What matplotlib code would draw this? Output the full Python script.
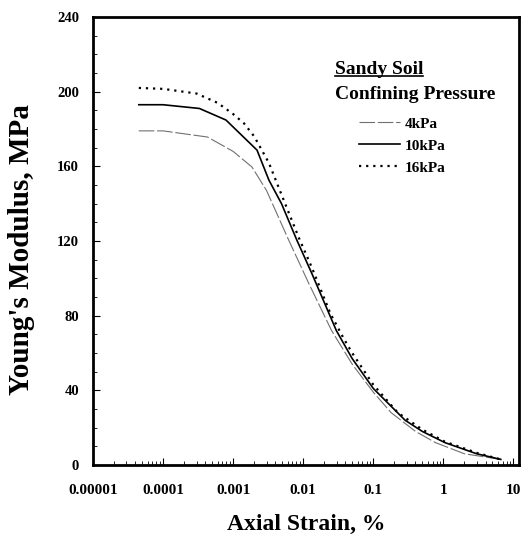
import matplotlib
matplotlib.use("Agg")
import matplotlib.pyplot as plt
from matplotlib.ticker import FixedLocator, MultipleLocator, NullFormatter

plt.rcParams['font.family'] = ['Liberation Serif', 'DejaVu Serif']
plt.rcParams['font.weight'] = 'bold'

# Data
strain_4 = [4.5e-5, 1e-4, 4.3e-4, 1e-3, 1.86e-3, 3e-3, 6.2e-3, 0.0121, 0.0254, 0.05, 0.1, 0.18, 0.4, 0.77, 2, 6.6]
modulus_4 = [179, 179, 175.7, 168, 159.6, 147, 120.5, 97, 72, 54, 39, 28, 18, 12, 6, 3]

strain_10 = [4.5e-5, 1e-4, 3.3e-4, 7.9e-4, 2.19e-3, 3.24e-3, 4.9e-3, 8.1e-3, 0.0132, 0.0297, 0.05, 0.1, 0.284, 0.5, 1.05, 3, 6.6]
modulus_10 = [193, 193, 191, 184.8, 168.7, 152.6, 140, 120.5, 102.8, 72, 57, 41, 24, 18, 12, 6, 3]

strain_16 = [4.5e-5, 1e-4, 3e-4, 6e-4, 1e-3, 1.43e-3, 2e-3, 3.24e-3, 5e-3, 8.6e-3, 0.0132, 0.0245, 0.0375, 0.05, 0.1, 0.224, 0.5, 1.05, 3, 6.6]
modulus_16 = [202, 201.5, 199, 194, 188, 183, 176, 161.8, 144, 122, 106, 81, 68, 60, 43, 28, 19, 12.5, 6.5, 3]

x_ticks = [1e-5, 1e-4, 1e-3, 1e-2, 1e-1, 1, 10]
x_tick_labels = ['0.00001', '0.0001', '0.001', '0.01', '0.1', '1', '10']
y_ticks = [0, 40, 80, 120, 160, 200, 240]
labels = ['4kPa', '10kPa', '16kPa']

fig = plt.figure(figsize=(5.29, 5.40), dpi=100)
ax = fig.add_axes([93/529, 75/540, 426/529, 448/540])

l4, = ax.plot(strain_4, modulus_4, color='#707070', lw=0.8, dashes=(14, 2.5), label=labels[0])
l10, = ax.plot(strain_10, modulus_10, color='black', lw=1.2, label=labels[1])
l16, = ax.plot(strain_16, modulus_16, color='black', lw=1.6, linestyle=(0, (1, 2.2)), label=labels[2])

ax.set_xscale('log')
ax.set_xlim(1e-5, 12)
ax.set_ylim(0, 240)
ax.xaxis.set_major_locator(FixedLocator(x_ticks))
ax.set_xticks(x_ticks)
ax.set_xticklabels(x_tick_labels)
ax.xaxis.set_minor_formatter(NullFormatter())
ax.set_yticks(y_ticks)
ax.yaxis.set_minor_locator(MultipleLocator(10))

ax.tick_params(axis='both', which='both', direction='in', top=False, right=False)
ax.tick_params(axis='x', which='major', length=5, width=0.8, labelsize=11, pad=14)
ax.tick_params(axis='x', which='minor', length=3, width=0.6)
ax.tick_params(axis='y', which='major', length=5, width=0.8, labelsize=10.5, pad=10)
ax.tick_params(axis='y', which='minor', length=3, width=0.6)
for lab in ax.get_xticklabels() + ax.get_yticklabels():
    lab.set_fontweight('bold')
for s in ax.spines.values():
    s.set_linewidth(2)

ax.set_xlabel('Axial Strain, %', fontsize=17, fontweight='bold', labelpad=12)
ax.set_ylabel("Young's Modulus, MPa", fontsize=21, fontweight='bold')
ax.yaxis.set_label_coords(-0.135, 0.48)

t1 = ax.text(0.568, 0.882, 'Sandy Soil', transform=ax.transAxes, fontsize=14,
             fontweight='bold', va='center', ha='left')
ax.text(0.568, 0.826, 'Confining Pressure', transform=ax.transAxes, fontsize=14,
        fontweight='bold', va='center', ha='left')

fig.canvas.draw()
bb = t1.get_window_extent().transformed(ax.transAxes.inverted())
ax.plot([bb.x0, bb.x1], [bb.y0 + 0.006, bb.y0 + 0.006], transform=ax.transAxes,
        color='black', lw=1.2, clip_on=False)

leg = ax.legend(handles=[l4, l10, l16], loc='upper left', bbox_to_anchor=(0.624, 0.777),
                frameon=False, handlelength=2.7, handletextpad=0.3,
                labelspacing=0.55, borderpad=0, borderaxespad=0,
                prop={'weight': 'bold', 'size': 11})

fig.savefig('out.png', dpi=100)
